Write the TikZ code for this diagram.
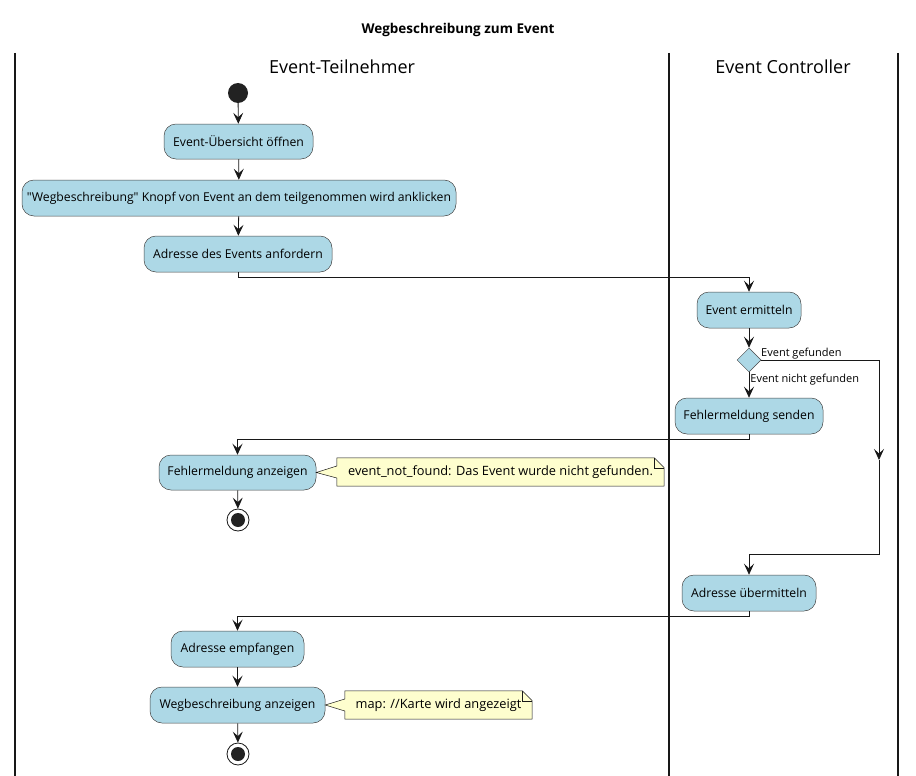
\documentclass[tikz,border=0pt]{standalone}
\usepackage{fontspec}
\setmainfont{Open Sans}
\usetikzlibrary{arrows.meta,shapes.geometric,calc}
\definecolor{boxblue}{HTML}{ADD8E6}
\definecolor{notefill}{HTML}{FEFECE}
\definecolor{edge}{HTML}{181818}
\definecolor{dot}{HTML}{222222}
\begin{document}
\begin{tikzpicture}[x=1pt,y=-1pt,
  act/.style={draw=edge!80, line width=0.5pt, fill=boxblue, rounded corners=12pt,
    minimum height=36pt, inner sep=0pt, font=\fontsize{12.2}{14}\selectfont},
  notebox/.style={inner sep=0pt, minimum height=28pt, font=\fontsize{12.8}{14}\selectfont},
  conn/.style={-{Stealth[length=11pt,width=10pt,inset=4.5pt]}, line width=0.8pt, draw=edge},
  plain/.style={line width=0.8pt, draw=edge},
  lbl/.style={font=\fontsize{11}{13}\selectfont, inner sep=1pt},
  lane/.style={line width=1.4pt, draw=edge},
  lanetitle/.style={font=\fontsize{18}{20}\selectfont},
  notepath/.style={draw=edge, line width=0.5pt, fill=notefill}
]
\useasboundingbox (0,0) rectangle (916,776);
\fill[white] (0,0) rectangle (916,776);

% title and lanes
\node[font=\bfseries\fontsize{13.5}{16}\selectfont] (title) at (458,30) {Wegbeschreibung zum Event};
\draw[lane] (15,53) -- (15,776);
\draw[lane] (669,53) -- (669,776);
\draw[lane] (898,53) -- (898,776);
\node[lanetitle] (lt1) at (342,67) {Event-Teilnehmer};
\node[lanetitle] (lt2) at (783,67) {Event Controller};

% start
\node[circle, fill=dot, minimum size=20pt, inner sep=0pt] (start) at (238,93) {};

% activities
\node[act, minimum width=149pt, minimum height=35pt] (a1) at (238.5,141.5) {Event-Übersicht öffnen};
\node[act, minimum width=434pt] (a2) at (239,198) {\textquotedbl Wegbeschreibung\textquotedbl{} Knopf von Event an dem teilgenommen wird anklicken};
\node[act, minimum width=188pt] (a3) at (238,254) {Adresse des Events anfordern};
\node[act, minimum width=104pt] (a4) at (749,310) {Event ermitteln};
\node[diamond, draw=edge!80, line width=0.5pt, fill=boxblue, minimum width=24pt, minimum height=24pt, inner sep=0pt] (dec) at (749,360) {};
\node[act, minimum width=148pt] (a5) at (749,416) {Fehlermeldung senden};
\node[act, minimum width=157pt, minimum height=35pt] (a6) at (237.5,472.5) {Fehlermeldung anzeigen};
\node[circle, draw=edge, line width=0.8pt, fill=white, minimum size=22pt, inner sep=0pt] (end1) at (238,520) {};
\fill[dot] (end1.center) circle (7pt);
\node[act, minimum width=134pt] (a7) at (749,593) {Adresse übermitteln};
\node[act, minimum width=133pt] (a8) at (237.5,649) {Adresse empfangen};
\node[act, minimum width=175pt] (a9) at (237.5,705) {Wegbeschreibung anzeigen};
\node[circle, draw=edge, line width=0.8pt, fill=white, minimum size=22pt, inner sep=0pt] (end2) at (238,754) {};
\fill[dot] (end2.center) circle (7pt);

% notes
\node[notebox, minimum width=327pt] (n1) at (500.5,472) {};
\draw[notepath] (n1.north west) -- ($(n1.north east)+(-10,0)$) -- ($(n1.north east)+(0,10)$)
  -- (n1.south east) -- (n1.south west) -- ($(n1.west)+(0,6)$) -- (a6.east) -- ($(n1.west)+(0,-6)$) -- cycle;
\draw[draw=edge, line width=0.5pt] ($(n1.north east)+(-10,0)$) -- ($(n1.north east)+(-10,10)$) -- ($(n1.north east)+(0,10)$);
\node[notebox] at (n1) {event\_not\_found: Das Event wurde nicht gefunden.};

\node[notebox, minimum width=187pt] (n2) at (438.5,705) {};
\draw[notepath] (n2.north west) -- ($(n2.north east)+(-10,0)$) -- ($(n2.north east)+(0,10)$)
  -- (n2.south east) -- (n2.south west) -- ($(n2.west)+(0,6)$) -- (a9.east) -- ($(n2.west)+(0,-6)$) -- cycle;
\draw[draw=edge, line width=0.5pt] ($(n2.north east)+(-10,0)$) -- ($(n2.north east)+(-10,10)$) -- ($(n2.north east)+(0,10)$);
\node[notebox] at (n2) {map: //Karte wird angezeigt};

% connectors
\draw[conn] (start) -- (a1);
\draw[conn] (a1) -- (a2);
\draw[conn] (a2) -- (a3);
\draw[conn] (a3.south) -- ++(0,5) -| (a4.north);
\draw[conn] (a4) -- (dec);
\draw[conn] (dec) -- node[lbl, pos=0.3, anchor=west] {Event nicht gefunden} (a5);
\node[lbl, anchor=west] (lf) at (760,354) {Event gefunden};
\coordinate (mid) at (879,460);
\coordinate (c2) at (879,554);
\draw[conn] (dec.east) -| (mid);
\draw[conn] (mid) -- (c2) -| (a7.north);
\draw[conn] (a5.south) -- ++(0,5) -| (a6.north);
\draw[conn] (a6) -- (end1);
\draw[conn] (a7.south) -- ++(0,5) -| (a8.north);
\draw[conn] (a8) -- (a9);
\draw[conn] (a9) -- (end2);
\end{tikzpicture}
\end{document}
